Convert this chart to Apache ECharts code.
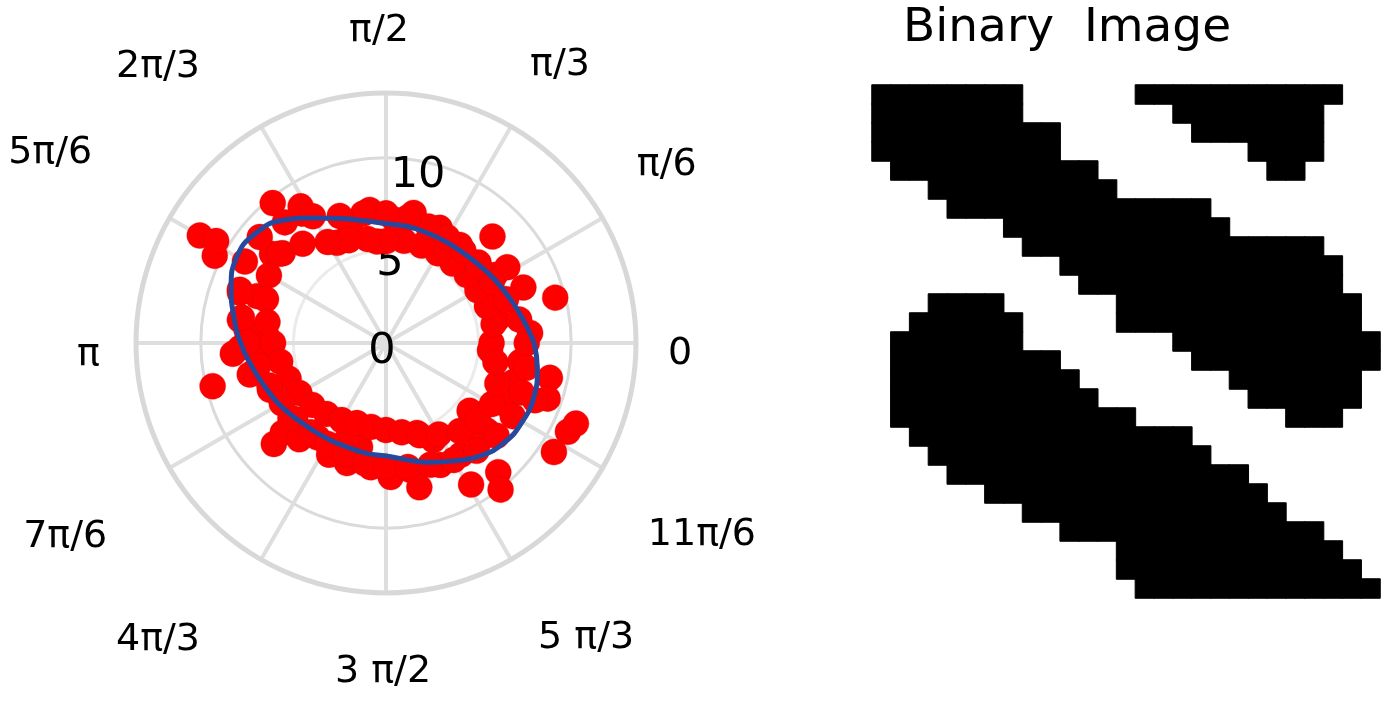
<!DOCTYPE html>
<html>
<head>
<meta charset="utf-8">
<title>Polar scatter and binary image</title>
<script src="https://cdn.jsdelivr.net/npm/echarts@6/dist/echarts.min.js"></script>
<style>
    html, body { margin: 0; padding: 0; background: #fff; }
    #chart { width: 1386px; height: 705px; }
</style>
</head>
<body>
<div id="chart"></div>
<script>
const angleLabels = ['0', 'π/6', 'π/3', 'π/2', '2π/3', '5π/6', 'π', '7π/6', '4π/3', '3 π/2', '5 π/3', '11π/6']
const radiusLabels = [0, 5, 10]

// red samples, [radius, angle in degrees]
const redPoints = [
    [7.24, 97], [7.18, 78], [6.02, 116], [7.39, 139], [9.72, 129], [8.33, 123],
    [11.61, 150], [10.38, 153], [8.13, 45], [6.86, 65], [6.63, 53], [6.62, 41],
    [6.94, 32], [8.0, 22], [7.72, 32], [9.46, 15], [6.12, 12], [5.63, 356],
    [7.32, 352], [7.8, 4], [7.19, 343], [9.05, 348], [9.23, 341], [10.93, 334],
    [10.81, 327], [7.2, 319], [7.3, 314], [9.24, 311], [10.05, 308], [5.83, 296],
    [5.14, 289], [5.79, 256], [6.7, 269], [5.65, 248], [9.65, 194], [8.15, 222],
    [6.99, 184], [7.89, 182], [6.76, 202], [6.55, 218], [6.3, 234], [6.82, 252],
    [6.76, 263], [7.24, 272], [7.39, 221], [10.7, 149], [7.81, 142], [8.7, 122],
    [8.34, 161], [7.4, 160], [6.44, 177], [7.55, 175], [8.29, 184],
    [6.67, 107], [6.67, 86], [6.3, 68], [5.5, 95], [6.99, 281], [7.21, 294],
    [7.26, 304], [6.77, 243], [7.0, 228], [8.0, 283], [8.92, 301], [6.84, 20],
    [8.62, 339], [7.25, 333], [5.81, 321], [11.14, 337], [7.55, 193], [7.99, 171],
    // inner edge of the band
    [5.7, 0], [5.9, 10], [5.8, 20], [5.7, 30], [5.7, 40], [5.6, 50],
    [5.6, 60], [5.6, 70], [5.6, 80], [5.5, 90], [5.7, 100], [5.9, 110],
    [6.3, 120], [7.0, 130], [7.5, 140], [7.3, 150], [6.9, 160], [6.5, 170],
    [6.1, 180], [5.8, 190], [5.6, 200], [5.4, 210], [5.2, 220], [5.0, 230],
    [4.8, 240], [4.6, 250], [4.6, 260], [4.7, 270], [4.9, 280], [5.3, 290],
    [5.7, 300], [6.2, 310], [6.5, 320], [6.6, 330], [6.4, 340], [6.0, 350],
    // outer edge of the band
    [7.6, 0], [7.3, 10], [6.9, 20], [6.6, 30], [6.5, 40], [6.5, 50],
    [6.6, 60], [6.7, 70], [6.9, 80], [7.0, 90], [7.1, 100], [7.3, 110],
    [7.9, 120], [8.5, 130], [8.9, 140], [8.8, 150], [8.4, 160], [7.9, 170],
    [7.5, 180], [7.0, 190], [6.7, 200], [6.5, 210], [6.4, 220], [6.3, 230],
    [6.3, 240], [6.4, 250], [6.6, 260], [6.7, 270], [6.8, 280], [7.0, 290],
    [7.3, 300], [7.6, 310], [7.8, 320], [7.9, 330], [7.8, 340], [7.7, 350]
]

// fitted ellipse
const ellipseAngles = [0, 10, 20, 30, 40, 50, 60, 70, 80, 90, 100, 110, 120,
    130, 140, 150, 160, 170, 180, 190, 200, 210, 220, 230, 240, 250,
    260, 270, 280, 290, 300, 310, 320, 330, 340, 350, 360]
const ellipseRadii = [8.0, 7.5, 7.1, 6.8, 6.55, 6.4, 6.35, 6.35, 6.4, 6.45, 6.7, 7.15, 7.8,
    8.65, 9.2, 9.3, 8.9, 8.35, 7.85, 7.35, 6.95, 6.65, 6.35, 6.15, 6.05, 6.0,
    6.05, 6.1, 6.4, 6.85, 7.35, 7.95, 8.35, 8.5, 8.5, 8.3, 8.0]

// binary image, black runs per row: [row, first col, last col]
const blackRuns = [
    [0, 0, 7], [0, 14, 24],
    [1, 0, 7], [1, 16, 23],
    [2, 0, 9], [2, 17, 23],
    [3, 0, 9], [3, 20, 23],
    [4, 1, 11], [4, 21, 22],
    [5, 3, 12],
    [6, 4, 17],
    [7, 7, 18],
    [8, 8, 23],
    [9, 10, 24],
    [10, 11, 24],
    [11, 3, 6], [11, 13, 25],
    [12, 2, 7], [12, 13, 25],
    [13, 1, 7], [13, 16, 26],
    [14, 1, 9], [14, 17, 26],
    [15, 1, 10], [15, 19, 25],
    [16, 1, 11], [16, 20, 25],
    [17, 1, 13], [17, 22, 24],
    [18, 2, 16],
    [19, 3, 17],
    [20, 4, 19],
    [21, 6, 20],
    [22, 8, 21],
    [23, 10, 23],
    [24, 13, 24],
    [25, 13, 25],
    [26, 14, 26]
]
const imageCols = Array.from({ length: 27 }, (_, i) => i)
const imageRows = Array.from({ length: 27 }, (_, i) => i)

const ellipseData = ellipseAngles.map((a, i) => [ellipseRadii[i], a])
const pixelData = []
blackRuns.forEach(([row, c0, c1]) => {
    for (let c = c0; c <= c1; c++) pixelData.push([c, row, 1])
})

const font = 'DejaVu Sans'
// nudges for the angle labels, they sit further out than echarts puts them
const angleRich = {
    a0: { padding: [22, 0, 0, 12] },
    a1: { padding: [0, 0, 24, 17] },
    a2: { padding: [0, 0, 25, 9] },
    a3: { padding: [0, 14, 23, 0] },
    a4: { padding: [0, 51, 23, 0] },
    a5: { padding: [0, 60, 36, 0] },
    a6: { padding: [24, 16, 0, 0] },
    a7: { padding: [40, 45, 0, 0] },
    a8: { padding: [44, 51, 0, 0] },
    a9: { padding: [40, 6, 0, 0] },
    a10: { padding: [42, 0, 0, 17] },
    a11: { padding: [38, 0, 0, 28] }
}
const radiusRich = {
    r0: { padding: [18, 8, 0, 0] },
    r5: { padding: [26, 0, 0, 8] },
    r10: { padding: [36, 0, 0, 64] }
}

const chart = echarts.init(document.getElementById('chart'))
chart.setOption({
    backgroundColor: '#fff',
    animation: false,
    title: {
        text: 'Binary  Image',
        left: 898,
        top: 0,
        textStyle: { fontFamily: font, fontSize: 47, fontWeight: 'normal', color: '#000' }
    },
    polar: {
        center: [386, 343],
        radius: 250
    },
    angleAxis: {
        type: 'value',
        startAngle: 90,
        clockwise: false,
        min: 90,
        max: 450,
        interval: 30,
        axisLine: { lineStyle: { color: '#d8d8d8', width: 5 } },
        axisTick: { show: false },
        splitLine: { lineStyle: { color: '#dedede', width: 4 } },
        axisLabel: {
            margin: 20,
            fontFamily: font,
            fontSize: 38,
            color: '#000',
            rich: angleRich,
            formatter: (v) => {
                if (v === 450) return ''
                const i = Math.round((v % 360) / 30)
                return '{a' + i + '|' + angleLabels[i] + '}'
            }
        }
    },
    radiusAxis: {
        min: 0,
        max: 13.5,
        interval: 5,
        axisLine: { show: false },
        axisTick: { show: false },
        splitLine: { lineStyle: { color: ['#eeeeee', '#ebebeb', '#dadada', '#d8d8d8'], width: 3 } },
        axisLabel: {
            margin: 0,
            align: 'center',
            verticalAlign: 'middle',
            fontFamily: font,
            fontSize: 43,
            color: '#000',
            rich: radiusRich,
            formatter: (v) => radiusLabels.includes(v) ? '{r' + v + '|' + v + '}' : ''
        }
    },
    grid: {
        left: 872,
        top: 85,
        width: 508,
        height: 513
    },
    xAxis: { type: 'category', data: imageCols, show: false },
    yAxis: { type: 'category', data: imageRows, inverse: true, show: false },
    visualMap: {
        show: false,
        seriesIndex: 2,
        min: 0,
        max: 1,
        inRange: { color: ['#ffffff', '#000000'] }
    },
    series: [
        {
            type: 'scatter',
            coordinateSystem: 'polar',
            data: redPoints,
            symbolSize: 26,
            itemStyle: {
                color: '#fe0000',
                opacity: 1,
                borderColor: '#d40000',
                borderWidth: 0.6,
                borderType: 'dotted'
            },
            z: 2
        },
        {
            type: 'line',
            coordinateSystem: 'polar',
            data: ellipseData,
            smooth: true,
            showSymbol: false,
            lineStyle: { color: '#27499d', width: 5 },
            z: 3
        },
        {
            type: 'heatmap',
            data: pixelData,
            itemStyle: { borderColor: '#000', borderWidth: 1 }
        }
    ]
})
</script>
</body>
</html>
